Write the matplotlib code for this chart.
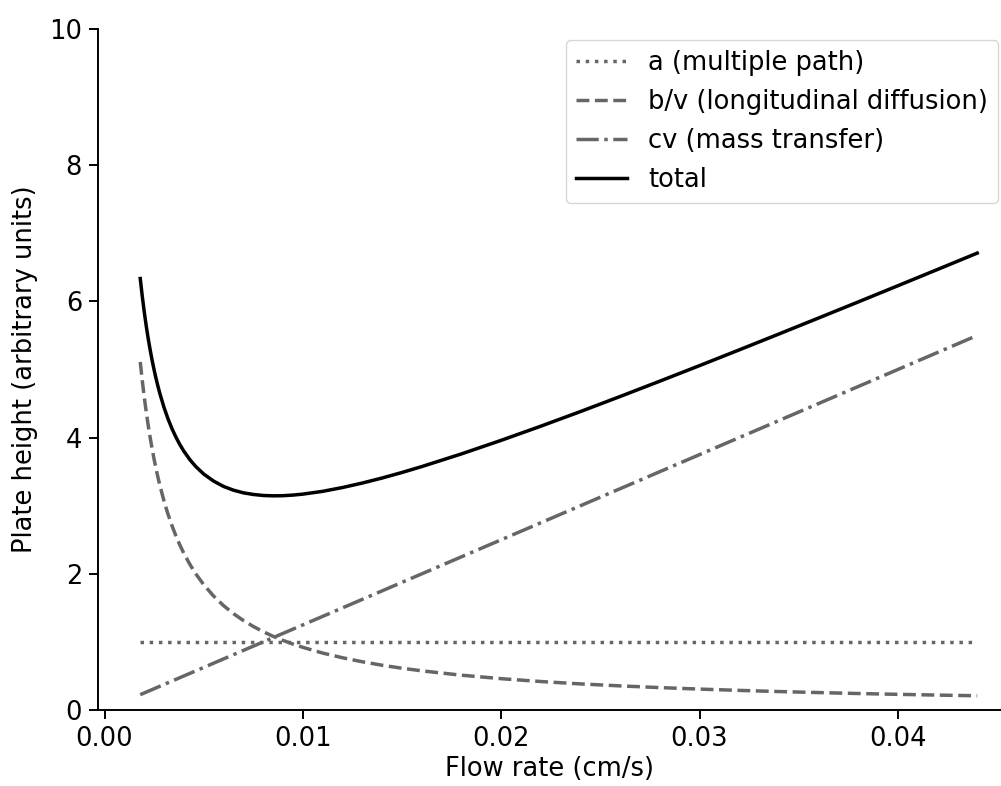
import matplotlib
matplotlib.use("Agg")
import matplotlib.pyplot as plt

flow_rate = [0.0018, 0.0019, 0.0020, 0.0021, 0.0022, 0.0023, 0.0024, 0.0025, 0.0026, 0.0027,
             0.0028, 0.0030, 0.0032, 0.0034, 0.0036, 0.0038, 0.0040, 0.0043, 0.0046, 0.0050,
             0.0055, 0.006, 0.0065, 0.007, 0.0075, 0.008, 0.0085, 0.009, 0.0095, 0.010,
             0.011, 0.012, 0.013, 0.014, 0.015, 0.016, 0.018, 0.020, 0.022, 0.024,
             0.026, 0.028, 0.030, 0.032, 0.034, 0.036, 0.038, 0.040, 0.042, 0.044]

multiple_path = [1.0] * len(flow_rate)

longitudinal = [5.111, 4.842, 4.600, 4.381, 4.182, 4.000, 3.833, 3.680, 3.538, 3.407,
                3.286, 3.067, 2.875, 2.706, 2.556, 2.421, 2.300, 2.140, 2.000, 1.840,
                1.673, 1.533, 1.415, 1.314, 1.227, 1.150, 1.082, 1.022, 0.968, 0.920,
                0.836, 0.767, 0.708, 0.657, 0.613, 0.575, 0.511, 0.460, 0.418, 0.383,
                0.354, 0.329, 0.307, 0.288, 0.271, 0.256, 0.242, 0.230, 0.219, 0.209]

mass_transfer = [0.225, 0.2375, 0.250, 0.2625, 0.275, 0.2875, 0.300, 0.3125, 0.325, 0.3375,
                 0.350, 0.375, 0.400, 0.425, 0.450, 0.475, 0.500, 0.5375, 0.575, 0.625,
                 0.6875, 0.750, 0.8125, 0.875, 0.9375, 1.000, 1.0625, 1.125, 1.1875, 1.250,
                 1.375, 1.500, 1.625, 1.750, 1.875, 2.000, 2.250, 2.500, 2.750, 3.000,
                 3.250, 3.500, 3.750, 4.000, 4.250, 4.500, 4.750, 5.000, 5.250, 5.500]

total = [6.336, 6.080, 5.850, 5.643, 5.457, 5.288, 5.133, 4.993, 4.863, 4.745,
         4.636, 4.442, 4.275, 4.131, 4.006, 3.896, 3.800, 3.677, 3.575, 3.465,
         3.361, 3.283, 3.228, 3.189, 3.165, 3.150, 3.145, 3.147, 3.156, 3.170,
         3.211, 3.267, 3.333, 3.407, 3.488, 3.575, 3.761, 3.960, 4.168, 4.383,
         4.604, 4.829, 5.057, 5.288, 5.521, 5.756, 5.992, 6.230, 6.469, 6.709]

labels = ["a (multiple path)", "b/v (longitudinal diffusion)", "cv (mass transfer)", "total"]

plt.rcParams['font.family'] = ['DejaVu Sans']
fs = 18.5

W, H = 1001, 786
fig = plt.figure(figsize=(W / 100, H / 100), dpi=100)
left, right, top, bottom = 98, 1001, 29, 710
ax = fig.add_axes([left / W, 1 - bottom / H, (right - left) / W, (bottom - top) / H])

grey = '#666666'
lw = 2.5
ax.plot(flow_rate, multiple_path, ':', color=grey, lw=lw, label=labels[0])
ax.plot(flow_rate, longitudinal, '--', color=grey, lw=lw, label=labels[1])
ax.plot(flow_rate, mass_transfer, '-.', color=grey, lw=lw, label=labels[2])
ax.plot(flow_rate, total, '-', color='black', lw=lw, label=labels[3])

ax.set_xlim(-0.00033, 0.04520)
ax.set_ylim(0, 10)
ax.set_xticks([0.00, 0.01, 0.02, 0.03, 0.04])
ax.set_xticklabels(["0.00", "0.01", "0.02", "0.03", "0.04"])
ax.set_yticks([0, 2, 4, 6, 8, 10])
ax.spines['top'].set_visible(False)
ax.spines['right'].set_visible(False)
for s in ('left', 'bottom'):
    ax.spines[s].set_linewidth(1.4)
ax.tick_params(width=1.4, length=6.5, labelsize=fs, pad=5)
ax.set_xlabel("Flow rate (cm/s)", fontsize=fs, labelpad=3)
ax.set_ylabel("Plate height (arbitrary units)", fontsize=fs, labelpad=8)

ax.legend(loc='upper right', bbox_to_anchor=(998 / W, 1 - 40 / H),
          bbox_transform=fig.transFigure, borderaxespad=0, fontsize=fs,
          handlelength=2.0)

fig.savefig("out.png", dpi=100)
